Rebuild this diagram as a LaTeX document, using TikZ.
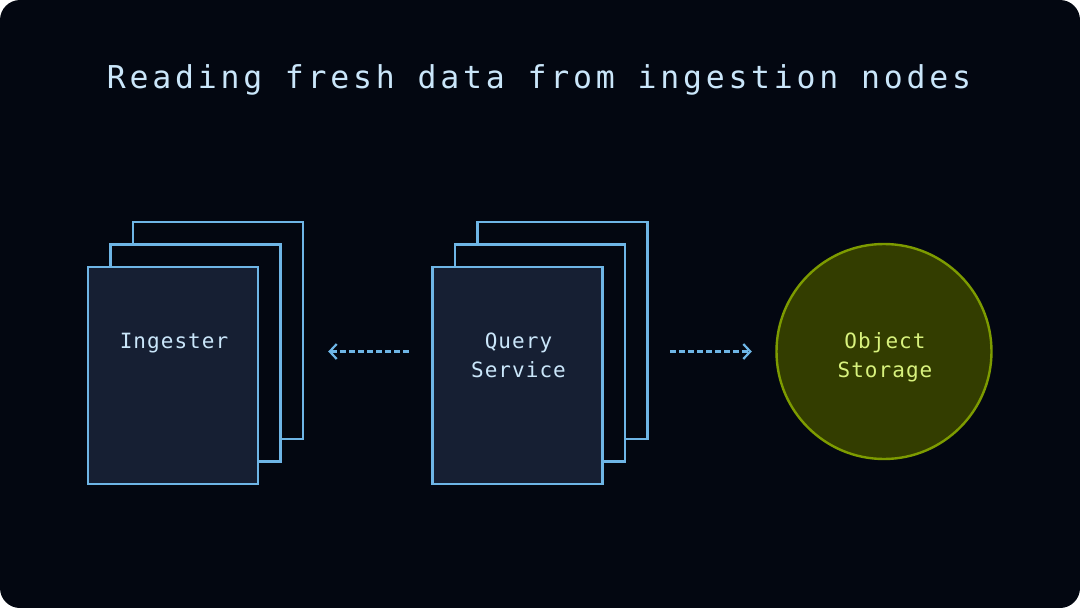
\documentclass[tikz,border=0pt]{standalone}
\usepackage{fontspec}
\newfontfamily\titlefont[LetterSpace=12]{DejaVu Sans Mono}
\newfontfamily\labelfont[LetterSpace=5]{DejaVu Sans Mono}
\usetikzlibrary{arrows.meta,positioning}
\definecolor{bg}{RGB}{3,7,17}
\definecolor{cardfill}{RGB}{22,31,51}
\definecolor{cardline}{RGB}{110,181,230}
\definecolor{cardtext}{RGB}{202,230,250}
\definecolor{storefill}{RGB}{51,61,0}
\definecolor{storeline}{RGB}{125,155,0}
\definecolor{storetext}{RGB}{216,242,125}

\begin{document}
\begin{tikzpicture}[x=1pt,y=-1pt,
  card/.style={draw=cardline,line width=2.4pt,minimum width=170pt,minimum height=217pt,inner sep=0pt},
  store/.style={circle,draw=storeline,fill=storefill,line width=2.4pt,minimum size=215pt,inner sep=0pt},
  lbl/.style={text=cardtext,font={\labelfont\fontsize{21}{29}\selectfont},align=center,anchor=base,inner sep=0pt},
  flow/.style={draw=cardline,line width=2.2pt,dash pattern=on 5.5pt off 3.5pt,-{Straight Barb[length=7pt,width=15pt]}}]
\fill[white] (0,0) rectangle (1080,608);
\fill[bg,rounded corners=20pt] (0,0) rectangle (1080,608);
\node[text=cardtext,font={\titlefont\fontsize{31.5}{37}\selectfont},anchor=base,inner sep=0pt] (title) at (539,88) {Reading fresh data from ingestion nodes};
% stacks of cards
\foreach \s/\x in {ing/173,qs/517.5}
  \foreach \k/\col in {2/bg,1/bg,0/cardfill}
    \node[card,fill=\col] (\s\k) at (\x+22.5*\k,375.5-22.5*\k) {};
\node[store] (os) at (884,351.5) {};
\node[lbl] (inglbl) at (174,348) {Ingester};
\node[lbl] (qslbl) at (518.5,377) {Query\\Service};
\node[lbl,text=storetext] (oslbl) at (885,377) {Object\\Storage};
\draw[flow,shorten <=22.5pt,shorten >=24pt] (qs0.west |- os.center) -- (ing2.east |- os.center);
\draw[flow,shorten <=21.5pt,shorten >=23.5pt] (qs2.east |- os.center) -- (os.west);
\end{tikzpicture}
\end{document}
